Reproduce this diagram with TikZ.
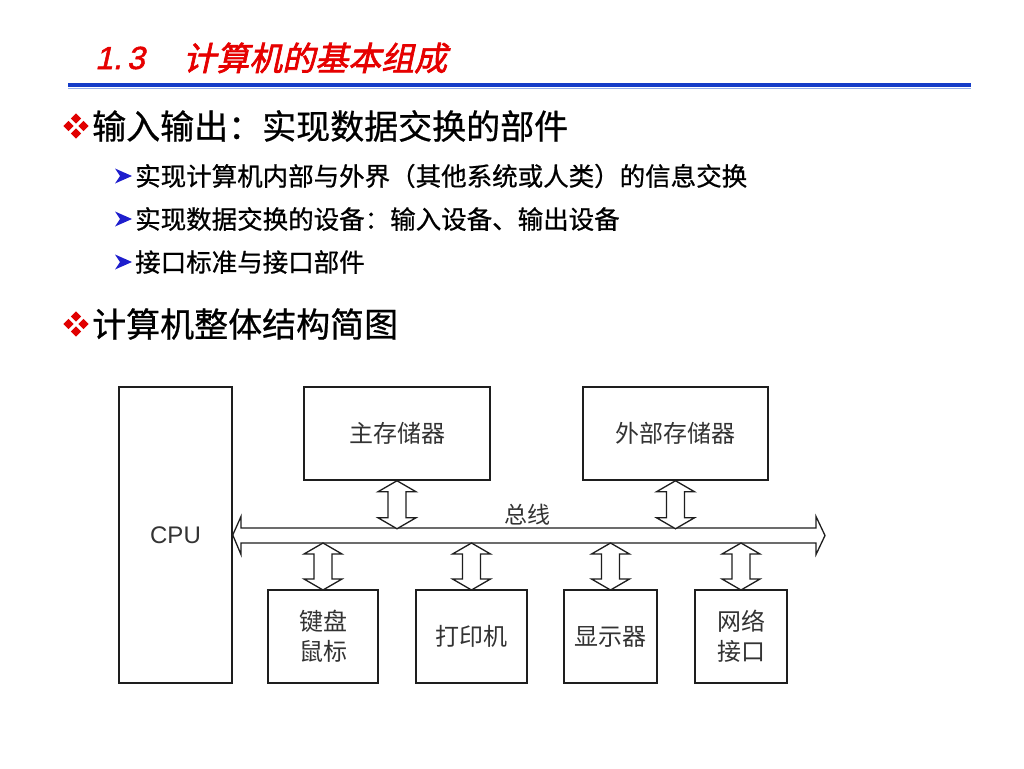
\documentclass[tikz,border=0pt]{standalone}
\usepackage{fontspec}
\setmainfont{Liberation Sans}
\newfontfamily\cjk{Noto Sans CJK SC}
\newfontfamily\cjkb[FakeBold=0.7]{Noto Sans CJK SC}
\newfontfamily\titlecjk[FakeSlant=0.22,FakeBold=2]{Noto Sans CJK SC}
\newfontfamily\titlelat[FakeSlant=0.22,FakeBold=1.5]{Liberation Sans}
\usetikzlibrary{calc}
\definecolor{titlered}{RGB}{230,0,0}
\definecolor{ruleblue}{RGB}{20,60,200}
\definecolor{rulelight}{RGB}{150,175,235}
\definecolor{bulletred}{RGB}{225,0,0}
\definecolor{bulletblue}{RGB}{30,30,205}
\definecolor{ink}{RGB}{30,30,30}
\tikzset{
  txt/.style={inner sep=0pt, anchor=west, text=black},
  box/.style={draw=ink, line width=1.5pt, inner sep=0pt, align=center,
    font=\cjk\fontsize{24}{30}\selectfont, text=black!80},
  busline/.style={draw=ink, line width=1.3pt, line join=miter, fill=white},
}
\newcommand\fourdia[2]{%
  \foreach \dx/\dy in {0/-7.5,-7.5/0,7.5/0,0/7.5}{
    \fill[bulletred] (#1+\dx,#2+\dy) ++(-5.2,0) -- ++(5.2,-5.2) -- ++(5.2,5.2) -- ++(-5.2,5.2) -- cycle;}}
\newcommand\arrbullet[1]{%
  \fill[bulletblue] (115,#1-7.5) -- (132,#1) -- (115,#1+7.5) -- (120,#1) -- cycle;}
\newcommand\vdarrow[2]{%
  \draw[busline] (#1) -- ++(19,11) -- ++(-10,0) -- ++(0,#2-22) -- ++(10,0) -- ++(-19,11)
    -- ++(-19,-11) -- ++(10,0) -- ++(0,-#2+22) -- ++(-10,0) -- cycle;}
\begin{document}
\begin{tikzpicture}[x=1pt,y=-1pt]
\useasboundingbox (0,0) rectangle (1024,768);
\fill[white] (0,0) rectangle (1024,768);
% title
\node[txt, text=titlered, font=\titlelat\fontsize{32}{36}\selectfont] (tnum) at (95,58) {1.\hspace{5pt}3};
\node[txt, text=titlered, font=\titlecjk\fontsize{33}{36}\selectfont] (ttext) at (183,58) {计算机的基本组成};
\draw[ruleblue, line width=3.6pt] (68,85) -- (971,85);
\draw[rulelight, line width=1.3pt] (68,88.6) -- (971,88.6);
% bullets
\fourdia{76}{126}
\node[txt, font=\cjkb\fontsize{34}{40}\selectfont] (b1) at (92,126) {输入输出：实现数据交换的部件};
\arrbullet{176}
\node[txt, font=\cjkb\fontsize{25.5}{30}\selectfont] (s1) at (135,176) {实现计算机内部与外界（其他系统或人类）的信息交换};
\arrbullet{219}
\node[txt, font=\cjkb\fontsize{25.5}{30}\selectfont] (s2) at (135,219) {实现数据交换的设备：输入设备、输出设备};
\arrbullet{262}
\node[txt, font=\cjkb\fontsize{25.5}{30}\selectfont] (s3) at (135,262) {接口标准与接口部件};
\fourdia{76}{324}
\node[txt, font=\cjkb\fontsize{34}{40}\selectfont] (b2) at (92,324) {计算机整体结构简图};
% diagram boxes
\node[box, minimum width=113, minimum height=296, font=\fontsize{24}{28}\selectfont] (cpu) at (175.5,535) {CPU};
\node[box, minimum width=186, minimum height=93] (mem) at (397,433.5) {主存储器};
\node[box, minimum width=185, minimum height=93] (ext) at (675.5,433.5) {外部存储器};
\node[box, minimum width=110, minimum height=93] (kbd) at (323,636.5) {键盘\\鼠标};
\node[box, minimum width=111, minimum height=93] (prn) at (471.5,636.5) {打印机};
\node[box, minimum width=93, minimum height=93] (dsp) at (610.5,636.5) {显示器};
\node[box, minimum width=92, minimum height=93] (net) at (741,636.5) {网络\\接口};
% bus
\coordinate (busR) at (825,535.5);
\coordinate (bustop) at (0,528);
\coordinate (busbot) at (0,543);
\draw[busline] (cpu.east) -- (241,516.5) -- (241,528) -- (816,528) -- (816,516.5) -- (busR)
  -- (816,554.5) -- (816,543) -- (241,543) -- (241,554.5) -- cycle;
\node[inner sep=0pt, font=\cjk\fontsize{23}{26}\selectfont, text=black!80] (buslabel) at (527,515) {总线};
% vertical double arrows
\vdarrow{mem.south}{48}
\vdarrow{ext.south}{48}
\vdarrow{kbd.north |- busbot}{47}
\vdarrow{prn.north |- busbot}{47}
\vdarrow{dsp.north |- busbot}{47}
\vdarrow{net.north |- busbot}{47}
\end{tikzpicture}
\end{document}
